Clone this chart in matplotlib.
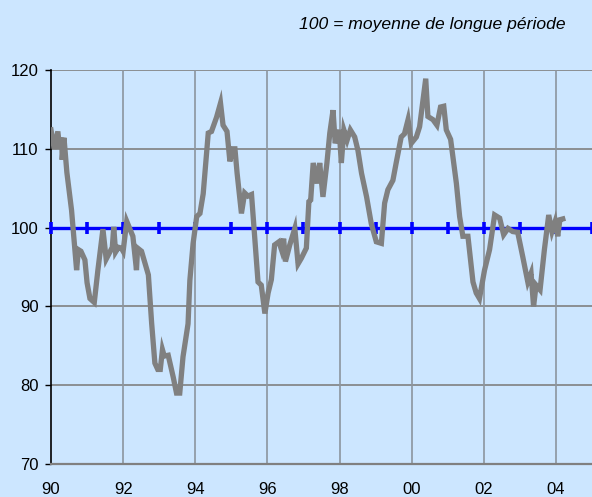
"""
Indicator vs. long-run average (100), 1990-2004
"""

import matplotlib
matplotlib.use('Agg')
import matplotlib.pyplot as plt

years = [
    1990.00, 1990.09, 1990.19, 1990.24, 1990.30, 1990.31, 1990.36, 1990.44,
    1990.57, 1990.71, 1990.76, 1990.83, 1990.94, 1991.00, 1991.08, 1991.20,
    1991.30, 1991.44, 1991.53, 1991.62, 1991.70, 1991.74, 1991.79, 1991.87,
    1991.95, 1992.00, 1992.10, 1992.27, 1992.37, 1992.40, 1992.51, 1992.70,
    1992.79, 1992.88, 1992.96, 1993.03, 1993.09, 1993.14, 1993.25, 1993.39,
    1993.48, 1993.57, 1993.66, 1993.80, 1993.85, 1993.94, 1994.04, 1994.13,
    1994.22, 1994.36, 1994.45, 1994.59, 1994.70, 1994.77, 1994.88, 1994.96,
    1995.03, 1995.10, 1995.16, 1995.28, 1995.37, 1995.46, 1995.56, 1995.74,
    1995.83, 1995.93, 1996.02, 1996.11, 1996.20, 1996.32, 1996.39, 1996.45,
    1996.50, 1996.62, 1996.76, 1996.85, 1996.94, 1997.08, 1997.15, 1997.20,
    1997.27, 1997.38, 1997.45, 1997.54, 1997.65, 1997.73, 1997.82, 1997.88,
    1997.99, 1998.05, 1998.12, 1998.21, 1998.30, 1998.42, 1998.51, 1998.61,
    1998.75, 1998.88, 1999.02, 1999.16, 1999.25, 1999.34, 1999.48, 1999.57,
    1999.71, 1999.80, 1999.90, 1999.99, 2000.13, 2000.22, 2000.29, 2000.39,
    2000.45, 2000.59, 2000.70, 2000.80, 2000.89, 2000.96, 2001.08, 2001.24,
    2001.33, 2001.42, 2001.56, 2001.70, 2001.79, 2001.88, 2002.02, 2002.16,
    2002.30, 2002.44, 2002.55, 2002.67, 2002.80, 2002.94, 2003.08, 2003.22,
    2003.31, 2003.38, 2003.45, 2003.56, 2003.68, 2003.80, 2003.89, 2003.98,
    2004.05, 2004.11, 2004.19,
]
values = [
    112.4, 110.0, 112.2, 110.0, 111.4, 108.6, 111.4, 107.0,
    102.2, 94.6, 97.2, 97.0, 95.9, 93.0, 91.0, 90.5,
    94.6, 99.8, 96.0, 96.8, 97.5, 100.1, 96.9, 97.5,
    97.4, 97.0, 100.8, 98.9, 94.6, 97.4, 97.0, 94.0,
    87.9, 82.8, 82.0, 82.0, 84.5, 83.7, 83.8, 81.0,
    79.0, 79.0, 83.6, 87.8, 93.3, 98.0, 101.4, 101.8,
    104.3, 112.0, 112.2, 114.0, 115.8, 113.0, 112.2, 108.4,
    110.0, 110.0, 106.9, 101.8, 104.4, 104.0, 104.2, 93.1,
    92.7, 89.1, 91.7, 93.4, 97.8, 98.2, 97.2, 98.6,
    95.7, 97.8, 99.9, 95.4, 96.1, 97.4, 103.3, 103.5,
    108.2, 105.6, 108.2, 103.9, 108.2, 112.0, 114.9, 110.7,
    112.4, 108.2, 112.4, 111.1, 112.4, 111.5, 109.8, 106.9,
    103.9, 100.5, 98.2, 98.0, 103.1, 104.8, 106.0, 108.2,
    111.5, 111.9, 113.7, 110.7, 111.5, 112.8, 115.3, 118.9,
    114.1, 113.7, 113.0, 115.3, 115.4, 112.4, 111.2, 105.6,
    101.4, 98.9, 98.9, 93.1, 91.7, 91.0, 94.6, 97.2,
    101.6, 101.2, 99.1, 99.9, 99.5, 99.4, 96.3, 93.1,
    94.2, 90.0, 92.7, 92.1, 97.2, 101.6, 99.5, 100.8,
    98.9, 101.0, 101.1,
]

# long-run average line, marked every year
ref_years = list(range(1990, 2006))
ref_level = 100

tick_years = list(range(1990, 2005, 2))
tick_labels = ['90', '92', '94', '96', '98', '00', '02', '04']
y_ticks = [70, 80, 90, 100, 110, 120]

bg = '#CCE6FF'
plt.rcParams['font.family'] = ['Liberation Sans', 'DejaVu Sans']

fig = plt.figure(figsize=(5.92, 4.97), dpi=100, facecolor=bg)
ax = fig.add_axes([51 / 592, 1 - 464 / 497, 1 - 51 / 592, 394 / 497])
ax.set_facecolor(bg)

ax.set_xlim(1990, 2005)
ax.set_ylim(70, 120)

# grid
for yv in y_ticks[1:]:
    ax.axhline(yv, color='#808080', lw=1.2, zorder=1)
for xv in tick_years[1:]:
    ax.axvline(xv, color='#8c959e', lw=1.2, zorder=1)

ax.plot(ref_years, [ref_level] * len(ref_years), color='#0000FF', lw=2.4,
        marker='|', markersize=8, markeredgewidth=2.6, zorder=3,
        clip_on=False)
ax.plot(years, values, color='#808080', lw=3.8, zorder=4,
        solid_joinstyle='miter')

ax.set_xticks(tick_years)
ax.set_xticklabels(tick_labels)
ax.set_yticks(y_ticks)
ax.tick_params(axis='x', length=0, pad=13, labelsize=12, colors='black')
ax.tick_params(axis='y', length=4, width=1, pad=5, labelsize=12,
               direction='out', colors='black')

for side in ['top', 'right']:
    ax.spines[side].set_visible(False)
ax.spines['left'].set_color('black')
ax.spines['left'].set_linewidth(1.2)
ax.spines['bottom'].set_color('#808080')
ax.spines['bottom'].set_linewidth(1.6)

fig.text(566 / 592, 1 - 24 / 497, '100 = moyenne de longue période',
         ha='right', va='center', fontsize=12.6, style='italic')

fig.savefig('out.png', dpi=100, facecolor=bg)
